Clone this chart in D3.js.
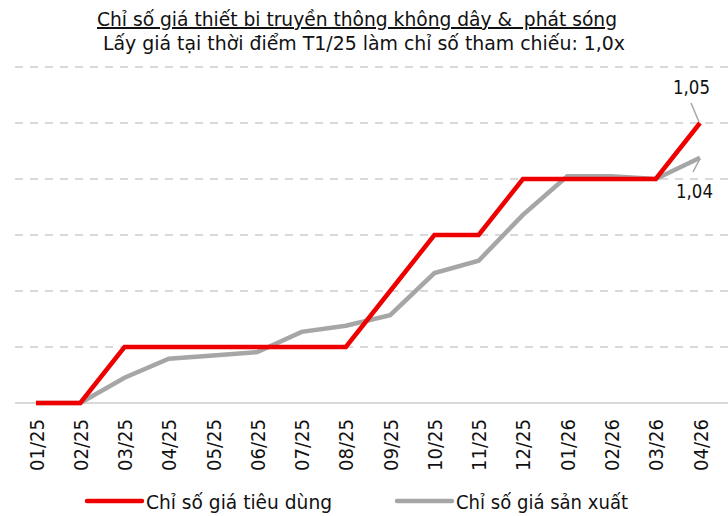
<!DOCTYPE html>
<html><head><meta charset="utf-8">
<script src="https://cdn.jsdelivr.net/npm/d3@7"></script>
<style>
body{margin:0;background:#fff;}
text{font-family:"Liberation Sans Narrow","DejaVu Sans Condensed","Open Sans",sans-serif;fill:#111;}
</style></head>
<body><svg id="c" width="728" height="516"></svg>
<script>
const months = ["01/25","02/25","03/25","04/25","05/25","06/25","07/25","08/25","09/25","10/25","11/25","12/25","01/26","02/26","03/26","04/26"];
const cpi = [1.00,1.00,1.01,1.01,1.01,1.01,1.01,1.01,1.02,1.03,1.03,1.04,1.04,1.04,1.04,1.05];
const ppi = [1.000,1.000,1.0045,1.0079,1.0085,1.0091,1.0127,1.0138,1.0157,1.0232,1.0254,1.0336,1.0405,1.0405,1.0400,1.0438];
const gridVals = [1.00,1.01,1.02,1.03,1.04,1.05,1.06];
const seriesNames = ["Chỉ số giá tiêu dùng","Chỉ số giá sản xuất"];
const colors = ["#ee0000","#a6a6a6"];
const title = "Chỉ số giá thiết bi truyền thông không dây &  phát sóng";
const subtitle = "Lấy giá tại thời điểm T1/25 làm chỉ số tham chiếu: 1,0x";

const svg = d3.select("#c");
const x = d3.scalePoint().domain(months).range([36,700]);
const y = d3.scaleLinear().domain([1.00,1.06]).range([403,67]);

function fit(sel,len){ return sel.attr("textLength",len).attr("lengthAdjust","spacingAndGlyphs"); }

fit(svg.append("text").attr("x",97).attr("y",26)
  .attr("font-size",20).attr("text-decoration","underline").attr("xml:space","preserve").text(title),520);
fit(svg.append("text").attr("x",103).attr("y",50)
  .attr("font-size",20).text(subtitle),522);

// grid
svg.append("g").selectAll("line").data(gridVals).join("line")
  .attr("x1",15).attr("x2",728).attr("y1",d=>y(d)).attr("y2",d=>y(d))
  .attr("stroke","#d9d9d9").attr("stroke-width",2)
  .attr("stroke-dasharray",d=>d===1.00?null:"8,7");

// x axis labels
const xa = d3.axisBottom(x).tickSize(0).tickPadding(0);
const gx = svg.append("g").attr("transform","translate(0,403)").call(xa);
gx.select(".domain").remove();
gx.selectAll("text").attr("font-size",20).attr("fill","#111")
  .attr("transform","translate(7,16) rotate(-90)").attr("text-anchor","end").attr("dy",null).attr("y",0).attr("x",0)
  .attr("textLength",52).attr("lengthAdjust","spacingAndGlyphs");

const line = d3.line().x((d,i)=>x(months[i])).y(d=>y(d));
[ppi,cpi].forEach((s,k)=>{
  svg.append("path").attr("d",line(s)).attr("fill","none")
    .attr("stroke",k===0?colors[1]:colors[0]).attr("stroke-width",4.5)
    .attr("stroke-linejoin","miter");
});

// value labels with leader lines
const last = months.length-1;
const fmt = v=>d3.format(".2f")(v).replace(".",",");
svg.append("line").attr("x1",691).attr("y1",103).attr("x2",x(months[last])-1).attr("y2",y(cpi[last])-1)
  .attr("stroke","#a6a6a6").attr("stroke-width",1.5);
fit(svg.append("text").attr("x",673).attr("y",94).attr("font-size",20).text(fmt(cpi[last])),37);
svg.append("line").attr("x1",693).attr("y1",172).attr("x2",x(months[last])).attr("y2",y(ppi[last])+1)
  .attr("stroke","#a6a6a6").attr("stroke-width",1.5);
fit(svg.append("text").attr("x",676).attr("y",198).attr("font-size",20).text(fmt(ppi[last])),37);

// legend
const leg = [{x:87,w:55,t:146,l:186},{x:397,w:55,t:456,l:172}];
seriesNames.forEach((n,i)=>{
  svg.append("line").attr("x1",leg[i].x).attr("x2",leg[i].x+leg[i].w).attr("y1",501).attr("y2",501)
    .attr("stroke",colors[i]).attr("stroke-width",4.5).attr("stroke-linecap","round");
  fit(svg.append("text").attr("x",leg[i].t).attr("y",509).attr("font-size",20).text(n),leg[i].l);
});
</script></body></html>
